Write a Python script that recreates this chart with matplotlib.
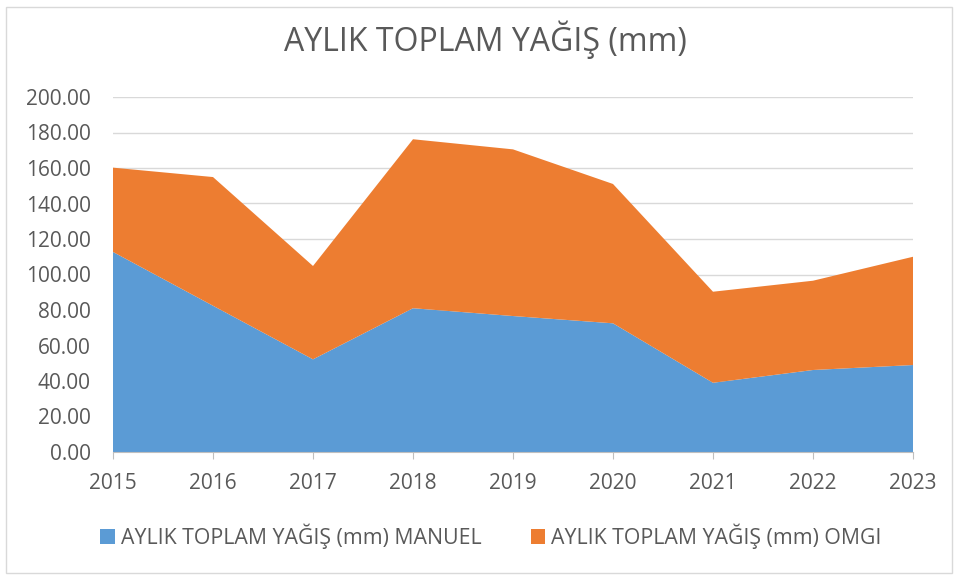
import numpy as np
import matplotlib.pyplot as plt
from matplotlib.patches import Rectangle

years = [2015, 2016, 2017, 2018, 2019, 2020, 2021, 2022, 2023]
manuel = [112.7, 82.4, 52.2, 81.0, 76.6, 72.5, 39.0, 46.2, 49.0]
omgi = [47.5, 72.5, 52.6, 95.2, 93.9, 78.5, 51.3, 50.3, 61.0]
labels = ["AYLIK TOPLAM YAĞIŞ (mm) MANUEL", "AYLIK TOPLAM YAĞIŞ (mm) OMGI"]
colors = ["#5B9BD5", "#ED7D31"]

plt.rcParams['font.family'] = ['Open Sans', 'DejaVu Sans']
txt = "#595959"

fig = plt.figure(figsize=(9.59, 5.79), dpi=100)
ax = fig.add_axes([113 / 959, 1 - 452 / 579, 800 / 959, 355 / 579])

ax.stackplot(years, manuel, omgi, colors=colors, labels=labels, linewidth=0)

ax.set_xlim(2015, 2023)
ax.set_ylim(0, 200)
ax.set_yticks(np.arange(0, 201, 20))
ax.set_yticklabels(["%.2f" % v for v in np.arange(0, 201, 20)])
ax.set_xticks(years)
ax.grid(axis='y', color="#D9D9D9", linewidth=1)
ax.set_axisbelow(True)
for s in ['top', 'right', 'left']:
    ax.spines[s].set_visible(False)
ax.spines['bottom'].set_color("#BFBFBF")
ax.tick_params(labelsize=15, colors=txt)
ax.tick_params(axis='x', length=5, color="#BFBFBF", labelcolor=txt, pad=10)
ax.tick_params(axis='y', length=0, pad=16)

fig.text(485 / 959, 1 - 40 / 579, "AYLIK TOPLAM YAĞIŞ (mm)", ha='center', va='center',
         fontsize=23, color=txt)

fig.legend(loc='center', bbox_to_anchor=(491 / 959, 1 - 536 / 579), ncol=2, frameon=False,
           fontsize=15.3, labelcolor=txt, handlelength=0.67, handleheight=0.67,
           columnspacing=2.3, handletextpad=0.3)

fig.patches.append(Rectangle((6 / 959, 6 / 579), 946 / 959, 566 / 579, transform=fig.transFigure,
                             fill=False, edgecolor="#D9D9D9", linewidth=1))

fig.savefig("out.png", dpi=100)
